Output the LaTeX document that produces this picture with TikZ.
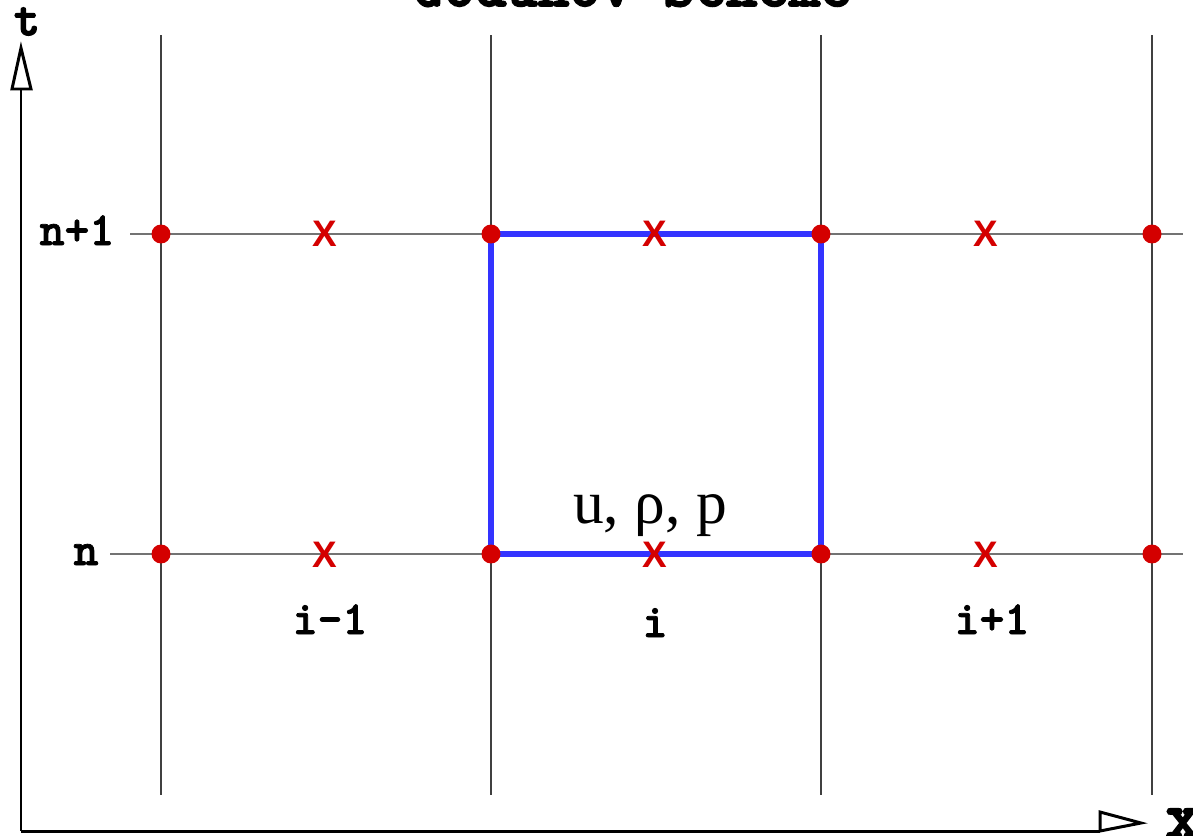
\documentclass[tikz,border=0pt]{standalone}
\usepackage{fontspec}
\setmainfont{Liberation Serif}
\newfontfamily\sansb{Liberation Sans}
\newfontfamily\courb[FakeBold=1.6]{lmmonolt10-bold.otf}
\newfontfamily\courbb[FakeBold=3]{lmmonolt10-bold.otf}
\definecolor{dotred}{HTML}{D40000}
\definecolor{boxblue}{HTML}{3333FF}
\begin{document}
\begin{tikzpicture}[x=0.02cm,y=-0.02cm,
  gridv/.style={draw=black!75,line width=0.8pt},
  gridh/.style={draw=black!55,line width=0.8pt},
  axisline/.style={draw=black,line width=1.7pt},
  arrowhd/.style={draw=black,fill=white,line width=1.7pt,line join=miter},
  dot/.style={circle,fill=dotred,inner sep=0pt,minimum size=10.8pt},
  cross/.style={text=dotred,font=\sansb\bfseries\fontsize{21}{21}\selectfont,inner sep=0pt},
  lbl/.style={font=\courb\fontsize{27}{27}\selectfont,anchor=base,inner sep=0pt},
  cell/.style={draw=boxblue,line width=2.9pt,line join=miter}]
\useasboundingbox (0,0) rectangle (1193,835);
% title (cut off at the top, as in the reference)
\node[font=\courbb\fontsize{34}{34}\selectfont,anchor=base,inner sep=0pt] (title) at (632,6) {Godunov Scheme};
% grid line ends
\foreach \i/\x in {1/161,2/491,3/821,4/1152}{
  \coordinate (vt\i) at (\x,35);
  \coordinate (vb\i) at (\x,795);
}
\coordinate (h1l) at (130,234); \coordinate (h1r) at (1183,234);
\coordinate (h0l) at (110,554); \coordinate (h0r) at (1183,554);
\foreach \i in {1,2,3,4}{ \draw[gridv] (vt\i) -- (vb\i); }
\draw[gridh] (h1l) -- (h1r);
\draw[gridh] (h0l) -- (h0r);
% axes
\coordinate (origin) at (21,831);
\coordinate (tbase) at (21,89);
\coordinate (xbase) at (1100,831);
\draw[axisline] (origin) -- (tbase);
\draw[axisline] (origin) -- (xbase);
\draw[arrowhd] (12,89) -- (31,89) -- (21,48) -- cycle;
\draw[arrowhd] (1100,812) -- (1100,831) -- (1141,823) -- cycle;
\node[lbl,font=\courbb\fontsize{28}{28}\selectfont] (tlab) at (27,35) {t};
\node[lbl,font=\courbb\fontsize{38}{38}\selectfont] (xlab) at (1183,838) {x};
% cell boundary
\coordinate (c1) at (491,234); \coordinate (c2) at (821,234);
\coordinate (c3) at (821,554); \coordinate (c4) at (491,554);
\draw[cell] (c1) -- (c2) -- (c3) -- (c4) -- cycle;
% dots
\foreach \i/\x in {1/161,2/491,3/821,4/1152}{
  \node[dot] (dt\i) at (\x,234) {};
  \node[dot] (db\i) at (\x,554) {};
}
% crosses
\foreach \i/\x in {1/325,2/655,3/986}{
  \node[cross] (xt\i) at (\x,234) {X};
  \node[cross] (xb\i) at (\x,555) {X};
}
% labels
\node[lbl] (np1) at (77,245) {n+1};
\node[lbl] (n) at (86,565) {n};
\node[lbl] (im1) at (330,634) {i-1};
\node[lbl] (i) at (655,637) {i};
\node[lbl] (ip1) at (992,634) {i+1};
\node[font=\fontsize{35}{35}\selectfont,anchor=base,inner sep=0pt] (vars) at (650,523) {u, ρ, p};
\end{tikzpicture}
\end{document}
